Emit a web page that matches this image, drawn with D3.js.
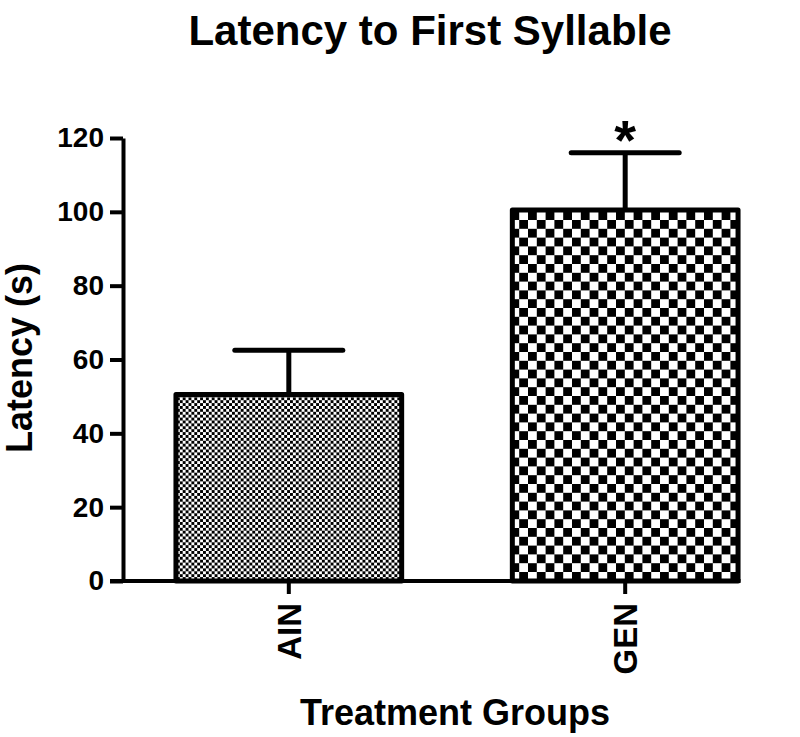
<!DOCTYPE html>
<html>
<head>
<meta charset="utf-8">
<script src="https://cdn.jsdelivr.net/npm/d3@7"></script>
<style>
  html, body { margin: 0; padding: 0; background: #fff; }
  svg { display: block; }
  text { font-family: "Liberation Sans", Arial, Helvetica, sans-serif; font-weight: bold; fill: #000; }
</style>
</head>
<body>
<script>
// ---- data ----
const categories = ["AIN", "GEN"];
const means = [50.5, 100.5];
const errors = [12, 15.5];
const significance = ["", "*"];
const yTicks = [0, 20, 40, 60, 80, 100, 120];
const titleText = "Latency to First Syllable";
const yLabel = "Latency (s)";
const xLabel = "Treatment Groups";

const W = 800, H = 737;
const svg = d3.select("body").append("svg").attr("width", W).attr("height", H);

// patterns
const defs = svg.append("defs");
function checker(id, c) {
  const p = defs.append("pattern").attr("id", id).attr("patternUnits", "userSpaceOnUse")
    .attr("width", 2 * c).attr("height", 2 * c);
  p.append("rect").attr("width", 2 * c).attr("height", 2 * c).attr("fill", "#fff");
  p.append("rect").attr("x", 0).attr("y", 0).attr("width", c).attr("height", c).attr("fill", "#000");
  p.append("rect").attr("x", c).attr("y", c).attr("width", c).attr("height", c).attr("fill", "#000");
}
checker("patA", 2.9);
checker("patG", 8.8);
const fills = ["url(#patA)", "url(#patG)"];

const axisX = 123, baseY = 581;
const y = d3.scaleLinear().domain([0, 120]).range([baseY, 138]);
const x = d3.scaleBand().domain(categories).range([125.5, 788.5]).paddingInner(0.329).paddingOuter(0.15);

// title
svg.append("text").attr("x", 430).attr("y", 45).attr("text-anchor", "middle")
  .style("font-size", "42px").text(titleText);

// bars
const data = categories.map((c, i) => ({ c, m: means[i], e: errors[i], s: significance[i], f: fills[i] }));
const g = svg.append("g");
g.selectAll("rect.bar").data(data).join("rect").attr("class", "bar")
  .attr("x", d => x(d.c)).attr("width", x.bandwidth())
  .attr("y", d => y(d.m)).attr("height", d => baseY - y(d.m))
  .attr("fill", d => d.f).attr("stroke", "#000").attr("stroke-width", 5)
  .attr("stroke-linejoin", "round");

// error bars
const capHalf = 54;
g.selectAll("line.stem").data(data).join("line").attr("class", "stem")
  .attr("x1", d => x(d.c) + x.bandwidth() / 2).attr("x2", d => x(d.c) + x.bandwidth() / 2)
  .attr("y1", d => y(d.m)).attr("y2", d => y(d.m + d.e))
  .attr("stroke", "#000").attr("stroke-width", 5);
g.selectAll("line.cap").data(data).join("line").attr("class", "cap")
  .attr("x1", d => x(d.c) + x.bandwidth() / 2 - capHalf).attr("x2", d => x(d.c) + x.bandwidth() / 2 + capHalf)
  .attr("y1", d => y(d.m + d.e)).attr("y2", d => y(d.m + d.e))
  .attr("stroke", "#000").attr("stroke-width", 5).attr("stroke-linecap", "round");
g.selectAll("text.sig").data(data.filter(d => d.s)).join("text").attr("class", "sig")
  .attr("x", d => x(d.c) + x.bandwidth() / 2).attr("y", d => y(d.m + d.e) + 6)
  .attr("text-anchor", "middle").style("font-size", "56px").text(d => d.s);

// y axis
const yAxis = svg.append("g").attr("transform", `translate(${axisX},0)`)
  .call(d3.axisLeft(y).tickValues(yTicks).tickSize(13).tickSizeOuter(0).tickPadding(6));
yAxis.select(".domain").attr("stroke-width", 4);
yAxis.selectAll(".tick line").attr("stroke-width", 4);
yAxis.selectAll(".tick text").style("font-size", "28px").style("font-family", "Liberation Sans, Arial, sans-serif").style("font-weight", "bold");

// x axis
const xAxis = svg.append("g").attr("transform", `translate(0,${baseY})`)
  .call(d3.axisBottom(x).tickSize(13).tickSizeOuter(0).tickPadding(0));
xAxis.select(".domain").remove();
xAxis.insert("line", ":first-child").attr("x1", 110).attr("x2", x.range()[1] - x.step() * 0.15 + 2.5)
  .attr("y1", 0).attr("y2", 0).attr("stroke", "#000").attr("stroke-width", 4);
xAxis.selectAll(".tick line").attr("stroke-width", 4);
xAxis.selectAll(".tick text")
  .style("font-size", "33px").style("font-family", "Liberation Sans, Arial, sans-serif").style("font-weight", "bold")
  .attr("text-anchor", "end").attr("transform", "rotate(-90)")
  .attr("x", -22).attr("y", 0).attr("dy", "0.36em");

// axis labels
svg.append("text").attr("transform", `translate(32,358) rotate(-90)`).attr("text-anchor", "middle")
  .style("font-size", "36px").text(yLabel);
svg.append("text").attr("x", 455).attr("y", 725).attr("text-anchor", "middle")
  .style("font-size", "36px").text(xLabel);
</script>
</body>
</html>
